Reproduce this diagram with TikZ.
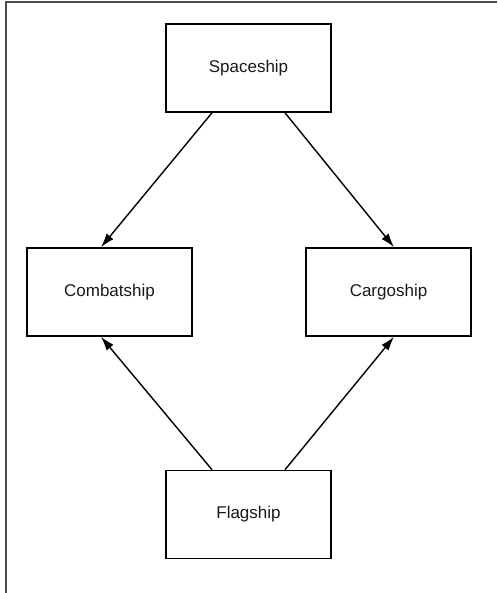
\documentclass[tikz,border=0pt]{standalone}
\usepackage{fontspec}
\setmainfont{Liberation Sans}
\usetikzlibrary{arrows.meta}

\begin{document}
\begin{tikzpicture}[x=1pt, y=-1pt]
	\tikzset{every node/.style={font=\fontsize{17}{20}\selectfont, text=black!90},
		shipbox/.style={draw, line width=1.6pt, minimum width=165pt, minimum height=88pt, inner sep=0pt},
		inherit/.style={-{Latex[length=14pt,width=9pt]}, line width=1.4pt}}
	\useasboundingbox (0,0) rectangle (497,593);

	%frame
	\draw[line width=1.8pt, black!70] (6,593) -- (6,2) -- (497,2);

	%classes
	\node[shipbox] (space) at (248.5,68) {Spaceship};
	\node[shipbox] (combat) at (109.5,292) {Combatship};
	\node[shipbox] (cargo) at (388.5,292) {Cargoship};
	\node[shipbox] (flag) at (248.5,514.5) {Flagship};

	%arrows
	\draw[inherit] ([xshift=-36.5pt]space.south) -- ([xshift=-8.5pt]combat.north);
	\draw[inherit] ([xshift=36.5pt]space.south) -- ([xshift=5.5pt]cargo.north);
	\draw[inherit] ([xshift=-36.5pt]flag.north) -- ([xshift=-8.5pt]combat.south);
	\draw[inherit] ([xshift=36.5pt]flag.north) -- ([xshift=5.5pt]cargo.south);
\end{tikzpicture}
\end{document}
